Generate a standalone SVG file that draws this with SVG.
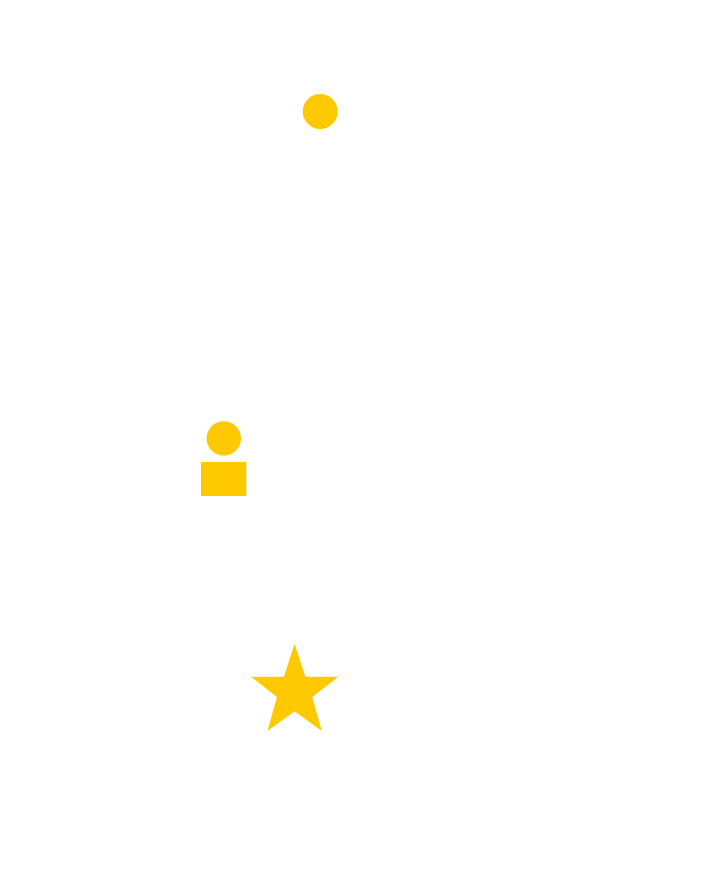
<svg xmlns="http://www.w3.org/2000/svg" width="711" height="870" viewBox="0 0 711 870">
<style>.s{fill:#ffc900;stroke:none}</style>
<rect width="711" height="870" fill="#ffffff"/>
<g id="circle-top"><circle class="s" cx="320.2" cy="111.5" r="17.5"/></g>
<g id="person"><circle class="s" cx="223.8" cy="438.4" r="17.2"/><rect class="s" x="201" y="462" width="45.3" height="34"/></g>
<g id="star"><polygon class="s" points="294.6,644 305.4,676.7 338.4,676.7 312.2,697 321.8,731 294.6,711.2 267.5,731 276.9,697 251,676.7 283.9,676.7"/></g>
</svg>
